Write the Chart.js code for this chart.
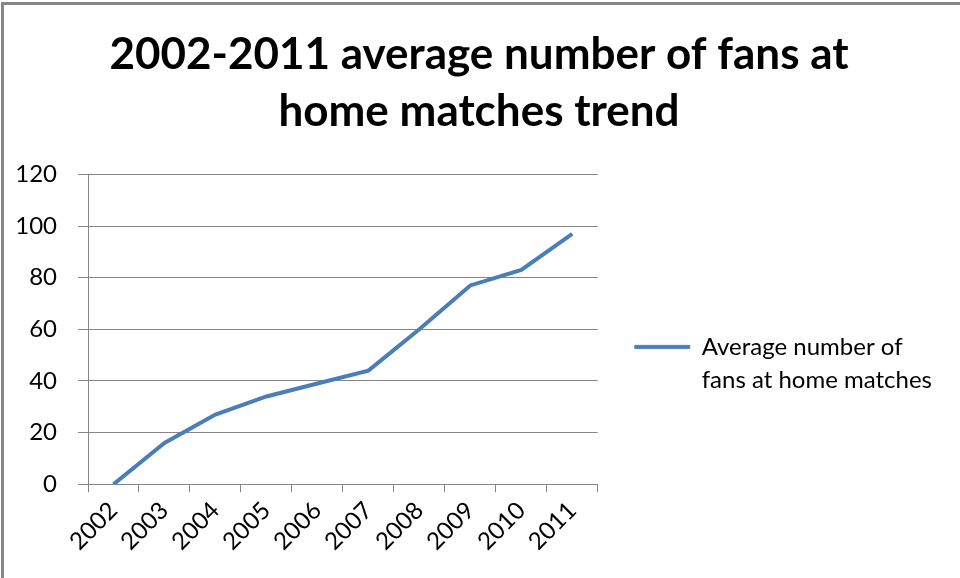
<!DOCTYPE html>
<html>
<head>
<meta charset="utf-8">
<script src="https://cdn.jsdelivr.net/npm/chart.js@4"></script>
<style>
  body { margin: 0; background: #fff; }
  #wrap { position: relative; width: 960px; height: 578px; }
</style>
</head>
<body>
<div id="wrap"><canvas id="mycanvas" width="960" height="578"></canvas></div>
<script>
// values
var years = ['2002', '2003', '2004', '2005', '2006', '2007', '2008', '2009', '2010', '2011'];
var fans = [0, 16, 27, 34, 39, 44, 60, 77, 83, 97];
var seriesLabel = ['Average number of', 'fans at home matches'];
var chartTitle = ['2002-2011 average number of fans at', 'home matches trend'];

var lineColor = '#4A7EBB';
var gridColor = '#868686';
var fontName = 'Lato, "Liberation Sans", sans-serif';

// the grey frame along the top and left edge
var framePlugin = {
  id: 'frame',
  beforeDraw: function(chart) {
    var c = chart.ctx;
    c.save();
    c.fillStyle = '#fff';
    c.fillRect(0, 0, chart.width, chart.height);
    c.strokeStyle = '#868686';
    c.lineWidth = 3;
    c.beginPath();
    c.moveTo(2.5, chart.height);
    c.lineTo(2.5, 3.5);
    c.lineTo(chart.width, 3.5);
    c.stroke();
    c.restore();
  }
};

var ctx = document.getElementById('mycanvas');

var LineGraph = new Chart(ctx, {
  type: 'line',
  data: {
    labels: years,
    datasets: [
      {
        label: seriesLabel,
        data: fans,
        borderColor: lineColor,
        backgroundColor: lineColor,
        borderWidth: 4,
        pointRadius: 0,
        pointHoverRadius: 0,
        tension: 0,
        fill: false
      }
    ]
  },
  options: {
    responsive: false,
    animation: false,
    layout: {
      padding: { left: 16, right: 18, top: 6, bottom: 18 }
    },
    scales: {
      x: {
        offset: true,
        // rotated labels may hang left of the plot, like in the original
        afterFit: function(scale) { scale.paddingLeft = 0; },
        grid: {
          offset: true,
          drawOnChartArea: false,
          drawTicks: true,
          tickLength: 8,
          color: gridColor
        },
        border: { color: gridColor, width: 1 },
        ticks: {
          minRotation: 45,
          maxRotation: 45,
          padding: 4,
          color: '#000',
          font: { family: fontName, size: 24 }
        }
      },
      y: {
        min: 0,
        max: 120,
        afterFit: function(scale) { scale.width = 72; },
        ticks: {
          stepSize: 20,
          padding: 21,
          color: '#000',
          font: { family: fontName, size: 24 }
        },
        grid: {
          color: gridColor,
          drawTicks: true,
          tickLength: 10
        },
        border: { color: gridColor, width: 1 }
      }
    },
    plugins: {
      title: {
        display: true,
        text: chartTitle,
        color: '#000',
        font: { family: fontName, size: 44, weight: 'bold', lineHeight: 1.3 },
        padding: { top: 20, bottom: 34 }
      },
      legend: {
        display: true,
        position: 'right',
        maxWidth: 360,
        title: {
          display: true,
          text: '',
          padding: { top: 73, bottom: 73 },
          font: { size: 20 }
        },
        labels: {
          boxWidth: 55,
          boxHeight: 3,
          padding: 37,
          color: '#000',
          font: { family: fontName, size: 24, lineHeight: 1.38 },
          generateLabels: function(chart) {
            var items = Chart.defaults.plugins.legend.labels.generateLabels(chart);
            items.forEach(function(it) {
              it.lineWidth = 1;
              it.strokeStyle = lineColor;
              it.fillStyle = lineColor;
            });
            return items;
          }
        }
      },
      tooltip: { enabled: false }
    }
  },
  plugins: [framePlugin]
});
</script>
</body>
</html>
